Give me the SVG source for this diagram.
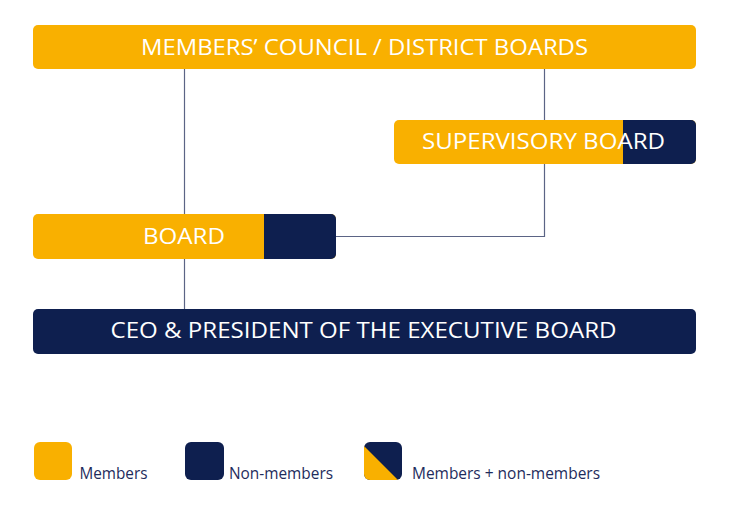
<svg xmlns="http://www.w3.org/2000/svg" width="731" height="518" viewBox="0 0 731 518">
<style>
.y{fill:#F9B000}
.n{fill:#0E1F4F}
.t{font-family:"Open Sans","Noto Sans",sans-serif;font-size:22px;fill:#FFFFFF}
.l{font-family:"Open Sans","Noto Sans",sans-serif;font-size:16px;fill:#1E2C5C}
.c{fill:none;stroke:#5B6485;stroke-width:1.2}
</style>
<defs>
<clipPath id="cpSup"><rect x="394" y="120" width="302" height="44" rx="5"/></clipPath>
<clipPath id="cpBoard"><rect x="33" y="214" width="303" height="45" rx="5"/></clipPath>
<clipPath id="cpLeg"><rect x="364" y="442" width="38" height="38" rx="6"/></clipPath>
</defs>
<rect width="731" height="518" fill="#FFFFFF"/>
<g id="connectors">
<line class="c" x1="184.5" y1="69" x2="184.5" y2="309"/>
<polyline class="c" points="544.5,69 544.5,236.5 336,236.5"/>
</g>
<g id="members-council">
<rect class="y" x="33" y="25" width="663" height="44" rx="5"/>
<text class="t" x="141" y="55" textLength="447" lengthAdjust="spacingAndGlyphs">MEMBERS’ COUNCIL / DISTRICT BOARDS</text>
</g>
<g id="supervisory-board">
<g clip-path="url(#cpSup)">
<rect class="y" x="394" y="120" width="302" height="44"/>
<rect class="n" x="623" y="120" width="73" height="44"/>
</g>
<text class="t" x="422" y="149" textLength="243" lengthAdjust="spacingAndGlyphs">SUPERVISORY BOARD</text>
</g>
<g id="board">
<g clip-path="url(#cpBoard)">
<rect class="y" x="33" y="214" width="303" height="45"/>
<rect class="n" x="264" y="214" width="72" height="45"/>
</g>
<text class="t" x="143" y="244" textLength="82" lengthAdjust="spacingAndGlyphs">BOARD</text>
</g>
<g id="ceo">
<rect class="n" x="33" y="309" width="663" height="45" rx="5"/>
<text class="t" x="110.5" y="338" textLength="506" lengthAdjust="spacingAndGlyphs">CEO &amp; PRESIDENT OF THE EXECUTIVE BOARD</text>
</g>
<g id="legend-members">
<rect class="y" x="34" y="442" width="38" height="38" rx="6"/>
<text class="l" x="79.5" y="479" textLength="68" lengthAdjust="spacingAndGlyphs">Members</text>
</g>
<g id="legend-nonmembers">
<rect class="n" x="185" y="442" width="39" height="38" rx="6"/>
<text class="l" x="229" y="479" textLength="104" lengthAdjust="spacingAndGlyphs">Non-members</text>
</g>
<g id="legend-mixed">
<g clip-path="url(#cpLeg)">
<rect class="n" x="364" y="442" width="38" height="38"/>
<polygon class="y" points="364,446 364,480 398,480"/>
</g>
<text class="l" x="412" y="479" textLength="188" lengthAdjust="spacingAndGlyphs">Members + non-members</text>
</g>
</svg>
